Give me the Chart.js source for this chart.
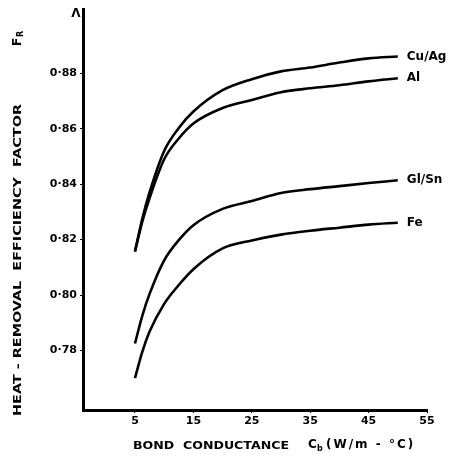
<!DOCTYPE html>
<html>
<head>
<meta charset="utf-8">
<script src="https://cdn.jsdelivr.net/npm/chart.js@4/dist/chart.umd.min.js"></script>
<style>
  html, body { margin: 0; padding: 0; background: #fff; }
  canvas { display: block; }
</style>
</head>
<body>
<canvas id="chart" width="464" height="470"></canvas>
<script>
// bond conductance C_b (W/m-°C)
const conductance = [5, 6.25, 7.5, 10, 12.5, 15, 20, 25, 30, 35, 40, 45, 50];

// heat-removal efficiency factor F_R per bond material
const cuAg = [0.8157, 0.8275, 0.8371, 0.8520, 0.8603, 0.8662, 0.8739, 0.8779, 0.8807, 0.8821, 0.8839, 0.8854, 0.8861];
const al   = [0.8157, 0.8265, 0.8350, 0.8490, 0.8565, 0.8619, 0.8675, 0.8704, 0.8732, 0.8746, 0.8757, 0.8771, 0.8782];
const glSn = [0.7825, 0.7925, 0.8004, 0.8125, 0.8198, 0.8252, 0.8311, 0.8339, 0.8368, 0.8382, 0.8393, 0.8404, 0.8414];
const fe   = [0.7700, 0.7795, 0.7868, 0.7968, 0.8036, 0.8093, 0.8168, 0.8197, 0.8218, 0.8232, 0.8243, 0.8254, 0.8261];

const seriesNames = ["Cu/Ag", "Al", "Gl/Sn", "Fe"];
const seriesValues = [cuAg, al, glSn, fe];

const xTicks = [5, 15, 25, 35, 45, 55];
const yTicks = [0.78, 0.80, 0.82, 0.84, 0.86, 0.88];

const ink = "#000";
const letterFont = "'DejaVu Sans', sans-serif";

// draw text squeezed/stretched to a given width
function fitText(ctx, text, x, y, width) {
  const w = ctx.measureText(text).width;
  ctx.save();
  ctx.translate(x, y);
  ctx.scale(width / w, 1);
  ctx.fillText(text, 0, 0);
  ctx.restore();
}

const annotations = {
  id: "annotations",
  afterDraw(chart) {
    const ctx = chart.ctx;
    ctx.save();
    ctx.fillStyle = ink;
    ctx.textBaseline = "middle";
    ctx.textAlign = "left";

    // series names at the end of each curve
    ctx.font = "bold 12px " + letterFont;
    chart.data.datasets.forEach((ds, i) => {
      const meta = chart.getDatasetMeta(i);
      const last = meta.data[meta.data.length - 1];
      ctx.fillText(ds.label, last.x + 9, last.y);
    });

    // y axis title, rotated
    ctx.save();
    ctx.translate(18, 416);
    ctx.rotate(-Math.PI / 2);
    ctx.font = "bold 10px " + letterFont;
    fitText(ctx, "HEAT - REMOVAL  EFFICIENCY  FACTOR", 0, 0, 312);
    ctx.font = "bold 12px " + letterFont;
    ctx.fillText("F", 370, 0);
    ctx.font = "bold 8px " + letterFont;
    ctx.fillText("R", 379, 3);
    ctx.restore();

    // arrow cap at top of y axis
    ctx.font = "bold 12px " + letterFont;
    ctx.textAlign = "center";
    ctx.fillText("\u039B", 76, 14);

    // x axis title
    ctx.textAlign = "left";
    ctx.font = "bold 10px " + letterFont;
    fitText(ctx, "BOND  CONDUCTANCE", 133, 446, 156);
    ctx.font = "bold 12px " + letterFont;
    ctx.fillText("C", 308, 445);
    ctx.font = "bold 8px " + letterFont;
    ctx.fillText("b", 317, 449);
    ctx.font = "bold 12px " + letterFont;
    ctx.letterSpacing = "2px";
    ctx.fillText("(W/m - \u00B0C)", 326, 445);
    ctx.restore();
  }
};

new Chart(document.getElementById("chart"), {
  type: "line",
  data: {
    datasets: seriesNames.map((name, i) => ({
      label: name,
      data: conductance.map((c, j) => ({ x: c, y: seriesValues[i][j] })),
      borderColor: ink,
      borderWidth: 2.6,
      pointRadius: 0,
      fill: false,
      cubicInterpolationMode: "monotone",
    })),
  },
  options: {
    responsive: false,
    animation: false,
    layout: { padding: { top: 5, right: 37, left: 0, bottom: 0 } },
    plugins: {
      legend: { display: false },
      tooltip: { enabled: false },
    },
    scales: {
      x: {
        type: "linear",
        min: -3.9,
        max: 55,
        afterBuildTicks: (scale) => {
          scale.ticks = xTicks.map((v) => ({ value: v }));
        },
        afterFit: (scale) => {
          scale.height = 60;
        },
        ticks: {
          color: ink,
          padding: 2,
          maxRotation: 0,
          font: { family: letterFont, size: 11, weight: "bold" },
          callback: (v) => String(v),
        },
        grid: { drawOnChartArea: false, color: ink, tickLength: 3, lineWidth: 1 },
        border: { color: ink, width: 3 },
      },
      y: {
        min: 0.7585,
        max: 0.903,
        afterBuildTicks: (scale) => {
          scale.ticks = yTicks.map((v) => ({ value: v }));
        },
        afterFit: (scale) => {
          scale.width = 83;
        },
        ticks: {
          color: ink,
          padding: 3,
          font: { family: letterFont, size: 11, weight: "bold" },
          callback: (v) => v.toFixed(2).replace(".", "\u00B7"),
        },
        grid: { drawOnChartArea: false, color: ink, tickLength: 3, lineWidth: 1 },
        border: { color: ink, width: 3 },
      },
    },
  },
  plugins: [annotations],
});
</script>
</body>
</html>
